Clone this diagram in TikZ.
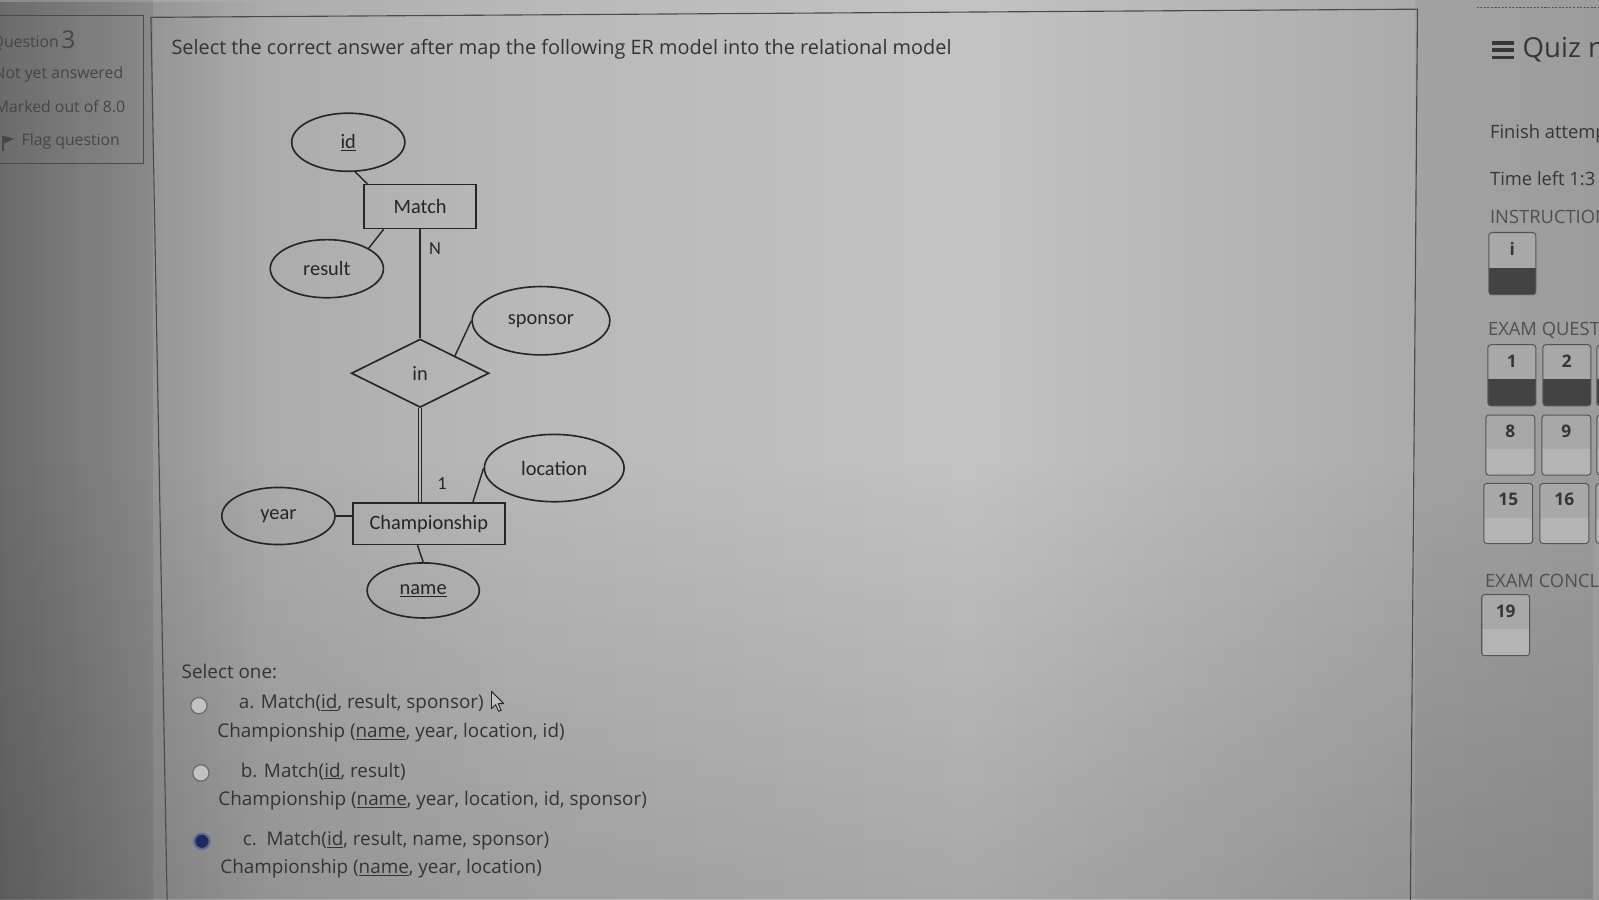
\documentclass[tikz,border=0pt]{standalone}
\usepackage{fontspec}
\setmainfont{Open Sans}
\newfontfamily\diagfont{Carlito}
\usetikzlibrary{shapes.geometric,calc,fadings}
\definecolor{linec}{HTML}{262626}
\definecolor{dtext}{HTML}{262626}
\definecolor{qtext}{HTML}{343434}
\definecolor{stext}{HTML}{464646}
\definecolor{rtext}{HTML}{363636}
\definecolor{htext}{HTML}{505050}
\definecolor{framec}{HTML}{4A4A4A}
\definecolor{bgLa}{HTML}{8A8A8A}
\definecolor{bgLb}{HTML}{999999}
\definecolor{bgMa}{HTML}{A6A6A6}
\definecolor{bgMb}{HTML}{B8B8B8}
\definecolor{bgMc}{HTML}{C3C3C3}
\definecolor{bgMd}{HTML}{ABABAB}
\definecolor{bgRa}{HTML}{A2A2A2}
\definecolor{bgRb}{HTML}{9C9C9C}
\definecolor{boxtop}{HTML}{A8A8A8}
\definecolor{boxbot}{HTML}{B4B4B4}
\definecolor{boxdark}{HTML}{434343}
\definecolor{boxline}{HTML}{555555}
\definecolor{radioc}{HTML}{6A6A6A}
\definecolor{radiof}{HTML}{C2C2C2}
\definecolor{selring}{HTML}{5C6A92}
\definecolor{seldot}{HTML}{1C2B5C}
\tikzfading[name=fadeR, left color=transparent!0, right color=transparent!100]
\tikzfading[name=fadeUp, top color=transparent!100, bottom color=transparent!0]
\tikzset{
  dfont/.style={font=\diagfont\fontsize{20}{24}\selectfont},
  attr/.style={ellipse, draw=linec, line width=1.6pt, inner sep=0pt, dfont, text=dtext},
  ent/.style={rectangle, draw=linec, line width=1.6pt, inner sep=0pt, dfont, text=dtext},
  rel/.style={diamond, aspect=2, draw=linec, line width=1.6pt, inner sep=0pt, dfont, text=dtext},
  conn/.style={draw=linec, line width=1.4pt},
  card/.style={inner sep=0pt, font=\diagfont\fontsize{18}{20}\selectfont, text=dtext},
  qtxt/.style={anchor=west, inner sep=0pt, text height=14.5pt, text depth=4pt, font=\fontsize{19.5}{23}\selectfont, text=qtext},
  otxt/.style={anchor=west, inner sep=0pt, text height=14pt, text depth=4pt, font=\fontsize{18.5}{22}\selectfont, text=qtext},
  stxt/.style={anchor=west, inner sep=0pt, text height=11.5pt, text depth=3.2pt, font=\fontsize{15.5}{19}\selectfont, text=stext},
  bignum/.style={anchor=west, inner sep=0pt, text height=17pt, text depth=0pt, font=\fontsize{24}{28}\selectfont, text=stext},
  rtxt/.style={anchor=west, inner sep=0pt, text height=13.5pt, text depth=4pt, font=\fontsize{18}{22}\selectfont, text=rtext},
  htxt/.style={anchor=west, inner sep=0pt, text height=13.5pt, text depth=4pt, font=\fontsize{18}{22}\selectfont, text=htext},
  ttl/.style={anchor=west, inner sep=0pt, text height=20pt, text depth=6pt, font=\fontsize{27}{31}\selectfont, text=rtext},
  numtxt/.style={inner sep=0pt, font=\bfseries\fontsize{17}{20}\selectfont, text=rtext},
  radio/.style={circle, draw=radioc, line width=1.2pt, fill=radiof, minimum size=16pt, inner sep=0pt},
  radiosel/.style={circle, draw=selring, line width=2pt, fill=seldot, minimum size=15pt, inner sep=0pt},
  framel/.style={draw=framec, line width=1.1pt}
}
\newcommand\navbox[6]{%
  \begin{scope}
    \clip[rounded corners=3pt] (#1,#2) rectangle (#3,#4);
    \fill[boxtop] (#1,#2) rectangle (#3,{(#2+#4)/2+4});
    \fill[#6] (#1,{(#2+#4)/2+4}) rectangle (#3,#4);
  \end{scope}
  \draw[boxline, line width=1pt, rounded corners=3pt] (#1,#2) rectangle (#3,#4);
  \node[numtxt] (nb#5) at ({(#1+#3)/2},{#2+16}) {#5};
}
\begin{document}
\begin{tikzpicture}[x=1pt,y=-1pt]
\useasboundingbox (0,0) rectangle (1568,882);
\clip (0,0) rectangle (1568,882);
% background
\shade[left color=bgLa, right color=bgLb] (0,0) rectangle (150,882);
\shade[left color=bgMa, right color=bgMb] (150,0) rectangle (500,882);
\shade[left color=bgMb, right color=bgMc] (500,0) rectangle (950,882);
\shade[left color=bgMc, right color=bgMd] (950,0) rectangle (1388,882);
\shade[left color=bgRa, right color=bgRb] (1388,0) rectangle (1568,882);
\fill[black, opacity=0.22, path fading=fadeR] (0,0) rectangle (260,882);
\fill[black, opacity=0.14, path fading=fadeUp] (0,450) rectangle (1568,882);

% sidebar box
\draw[framel] (-5,15) rectangle (141,160);
\node[stxt, anchor=east] (qlabel) at (58,42) {Question};
\node[bignum] (qnum) at (60,39) {3};
\node[stxt, anchor=east] (state) at (121,73) {Not yet answered};
\node[stxt, anchor=east] (marks) at (123,106) {Marked out of 8.0};
\draw[stext, line width=1.3pt] (3,133) -- (3,148);
\fill[stext] (3,133) -- (14,136) -- (3,141) -- cycle;
\node[stxt] (flag) at (21,139) {Flag question};

% main panel frame
\draw[framel] (164,890) -- (148,17) -- (1390,9) -- (1383,890);
\node[qtxt] (qtitle) at (168,48) {Select the correct answer after map the following ER model into the relational model};

% ER diagram
\node[attr, minimum width=111pt, minimum height=57pt] (id) at (341.5,139.5) {\underline{id}};
\node[ent, minimum width=110pt, minimum height=43pt] (match) at (412,202.5) {Match};
\node[attr, minimum width=111pt, minimum height=57pt] (result) at (320.5,263.5) {result};
\node[attr, minimum width=135pt, minimum height=67pt] (sponsor) at (530.5,314.5) {sponsor};
\node[rel, minimum width=135pt, minimum height=67pt] (in) at (412,366) {in};
\node[attr, minimum width=137pt, minimum height=66pt] (location) at (543.5,459) {location};
\node[attr, minimum width=111pt, minimum height=56pt] (year) at (273,506) {year};
\node[ent, minimum width=149pt, minimum height=41pt] (champ) at (420.5,513.5) {Championship};
\node[attr, minimum width=110pt, minimum height=54pt] (name) at (415,579) {\underline{name}};

\draw[conn] (id.-77) -- ($(match.north west)+(4,0)$);
\draw[conn] (result.26) -- ($(match.south west)+(20,0)$);
\draw[conn] (match.south) -- (in.north);
\draw[conn] (sponsor.west) -- (in.north east);
\draw[draw=linec, line width=1.5pt, double=bgMb, double distance=1.6pt] (in.south) -- (in.south |- champ.north);
\draw[conn] (location.west) -- ($(champ.north east)+(-32,0)$);
\draw[conn] (year.east) -- (year.east -| champ.west);
\draw[conn] (name.north) -- ($(champ.south)+(-11,0)$);
\node[card] (cardN) at (426.5,244) {N};
\node[card] (cardOne) at (433.5,474) {1};

% answers
\node[otxt] (selone) at (178,660) {Select one:};
\node[radio] (ra) at (195,692) {};
\node[otxt] (oa1) at (234,690) {a. Match(\underline{id}, result, sponsor)};
\node[otxt] (oa2) at (213,718) {Championship (\underline{name}, year, location, id)};
\node[radio] (rb) at (197,758) {};
\node[otxt] (ob1) at (236,757) {b. Match(\underline{id}, result)};
\node[otxt] (ob2) at (214,785) {Championship (\underline{name}, year, location, id, sponsor)};
\node[radiosel] (rc) at (198,825) {};
\node[otxt] (oc1) at (238,824) {c.\ \ Match(\underline{id}, result, name, sponsor)};
\node[otxt] (oc2) at (216,852) {Championship (\underline{name}, year, location)};
% mouse pointer
\draw[linec, fill=radiof, line width=0.9pt, line join=round] (482,678) -- (482,695) -- (486,691) -- (489,697.5) -- (491.5,696.5) -- (488.5,690) -- (494,690) -- cycle;

% right panel
\draw[boxline, line width=1pt, dash pattern=on 2pt off 1.5pt] (1448,7.5) -- (1568,7.5);
\fill[rtext] (1463,40.5) rectangle (1485,44);
\fill[rtext] (1463,47.5) rectangle (1485,51);
\fill[rtext] (1463,54.5) rectangle (1485,58);
\node[ttl] (quiznav) at (1493,49) {Quiz navigation};
\node[rtxt] (finish) at (1461,131) {Finish attempt ...};
\node[rtxt] (timeleft) at (1461,177) {Time left 1:3};
\node[htxt] (instr) at (1461,214) {INSTRUCTIONS};
\navbox{1460}{228}{1506}{289}{i}{boxdark}
\node[htxt] (examq) at (1459,324) {EXAM QUESTIONS};
\navbox{1459}{338}{1506}{398}{1}{boxdark}
\navbox{1513}{338}{1560}{398}{2}{boxdark}
\navbox{1566}{338}{1612}{398}{3}{boxdark}
\navbox{1457}{407}{1505}{466}{8}{boxbot}
\navbox{1512}{407}{1560}{466}{9}{boxbot}
\navbox{1566}{407}{1612}{466}{10}{boxbot}
\navbox{1455}{474}{1503}{533}{15}{boxbot}
\navbox{1510}{474}{1558}{533}{16}{boxbot}
\navbox{1565}{474}{1612}{533}{17}{boxbot}
\node[htxt] (examc) at (1456,571) {EXAM CONCLUSION};
\navbox{1453}{583}{1500}{643}{19}{boxbot}
\end{tikzpicture}
\end{document}
